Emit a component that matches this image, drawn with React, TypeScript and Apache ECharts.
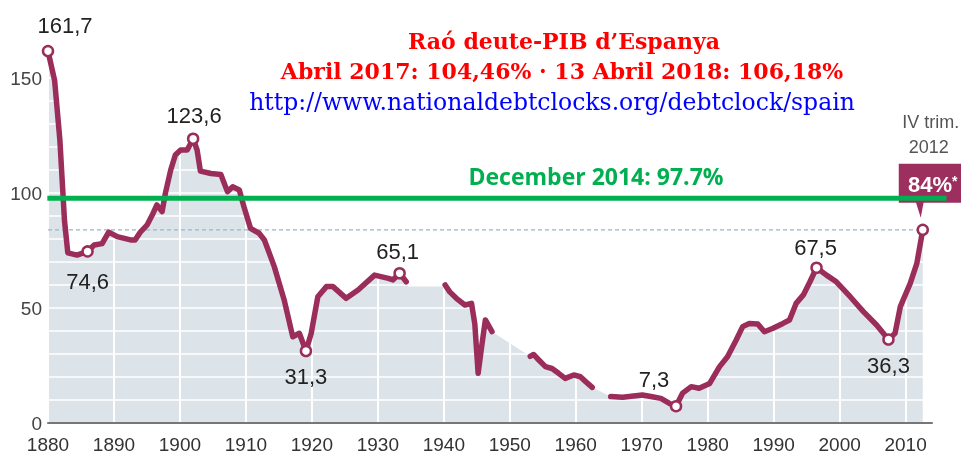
import React, { useEffect, useRef } from "react";
import * as echarts from "echarts";

// Debt-to-GDP ratio of Spain (% of GDP)
const segment1880 = [
  [1880, 161.7], [1881, 149], [1881.8, 123], [1882.5, 88], [1883, 74], [1884.4, 73],
  [1886, 74.6], [1887, 77.4], [1888.2, 78], [1889.2, 83], [1890.5, 81], [1892.5, 79.6],
  [1893.2, 79.6], [1894, 83], [1895, 86], [1895.8, 90.4], [1896.5, 94.8], [1897.3, 91.9],
  [1897.8, 100], [1898.6, 110], [1899.3, 116.5], [1900.1, 118.7], [1901.1, 118.7],
  [1902, 123.6], [1902.6, 118.7], [1903.1, 109.5], [1904.7, 108.5], [1906.2, 108],
  [1907.2, 100.6], [1908, 102.7], [1909, 101.3], [1909.7, 94], [1910.7, 84.6], [1912, 82.5],
  [1912.8, 79.6], [1914.3, 68], [1915.8, 53.5], [1917.1, 37.5], [1918.1, 39], [1919.1, 31.3],
  [1919.9, 39], [1920.9, 54.9], [1922.2, 59.3], [1923.2, 59.3], [1925.2, 54.2], [1927, 57.8],
  [1929.5, 64.3], [1931.6, 62.9], [1932.3, 62.2], [1933.3, 65.1], [1934.3, 61.4],
];
const fillBridge1935 = [[1934.6, 59.3], [1940.0, 59.3]];
const segment1940 = [
  [1940.2, 60], [1940.9, 57], [1941.9, 54.2], [1943.2, 51.3], [1944.2, 52], [1944.7, 43],
  [1945.2, 21.6], [1945.8, 34.6], [1946.3, 44.8], [1947.3, 39.7],
];
const segment1953 = [
  [1953.1, 29], [1953.6, 29.8], [1954.4, 27.4], [1955.4, 24.5], [1956.4, 23.7], [1957.4, 21.6],
  [1958.4, 19.4], [1959.7, 20.9], [1960.7, 20.1], [1961.5, 18], [1962.5, 15.5],
];
const segment1965 = [
  [1965.3, 11.5], [1967.1, 11.2], [1970.1, 12.2], [1971.6, 11.4], [1972.9, 10.7], [1974.2, 8.5],
  [1975.2, 7.3], [1976.2, 13], [1977.5, 15.8], [1978.7, 15.1], [1980.3, 17.2], [1981.8, 24.5],
  [1983, 28.8], [1984.3, 36], [1985.3, 41.9], [1986.3, 43.3], [1987.6, 43], [1988.6, 39.7],
  [1989.9, 41.2], [1991.4, 43.3], [1992.4, 44.8], [1993.4, 52], [1994.5, 55.7], [1995.5, 61.4],
  [1996.5, 67.5], [1998, 64.3], [1999.5, 61.4], [2001.6, 54.9], [2003.6, 48.4], [2005.6, 42.6],
  [2007.4, 36.3], [2008.4, 39], [2009.2, 50.6], [2010.7, 60.7], [2011.7, 69.4], [2012.6, 84],
];

const peakYears = [1880, 1886, 1902, 1919.1, 1933.3, 1975.2, 1996.5, 2007.4, 2012.6];
const peakValues = [161.7, 74.6, 123.6, 31.3, 65.1, 7.3, 67.5, 36.3, 84];
const peakShowLabel = [true, true, true, true, true, true, true, true, false];

const lastQuarterYear = 2012.6;
const currentRatio = 84;
const dec2014Ratio = 97.7;
const dec2014Span = [1879.9, 2016.2];
const dec2014Text = "December 2014: 97.7%";
const titleLines = [
  "Raó deute-PIB d’Espanya",
  "Abril 2017: 104,46% · 13 Abril 2018: 106,18%",
];
const urlText = "http://www.nationaldebtclocks.org/debtclock/spain";
const periodLines = ["IV trim.", "2012"];
const currentText = "84%";

// styles
const labelOffsets = [
  [17, -26], [0, 30], [1, -23], [0, 25], [-2, -22], [-22, -27], [-1, -20], [0, 26], [0, 0],
];
const LINE_COLOR = "#9b2d5b";
const BOX_COLOR = "#9d2f5f";
const FILL_COLOR = "#dde4e9";
const SANS = "'Liberation Sans', Arial, sans-serif";

export default function App() {
  const ref = useRef<HTMLDivElement>(null);
  useEffect(() => {
    const chart = echarts.init(ref.current as HTMLDivElement, null, { renderer: "svg" });
    const lineSeries = (data: number[][]) => ({
      type: "line",
      data,
      symbol: "none",
      z: 4,
      silent: true,
      lineStyle: { color: LINE_COLOR, width: 5.5, cap: "round", join: "round" },
    });
    const fillData = [...segment1880, ...fillBridge1935, ...segment1940, ...segment1953, ...segment1965];
    chart.setOption({
      animation: false,
      grid: { left: 48, right: 29, top: 20.5, bottom: 34, outerBoundsMode: "none" },
      xAxis: {
        type: "value",
        min: 1880,
        max: 2014,
        interval: 10,
        z: 2,
        axisLine: { lineStyle: { color: "#777", width: 2 } },
        axisTick: { show: false },
        axisLabel: {
          fontSize: 19,
          color: "#333",
          fontFamily: SANS,
          margin: 12,
          formatter: (v: number) => (v % 10 === 0 ? String(v) : ""),
        },
        splitLine: { show: true, lineStyle: { color: "#ffffff", width: 2 } },
      },
      yAxis: {
        type: "value",
        min: 0,
        max: 175,
        interval: 10,
        z: 2,
        axisLine: { show: false },
        axisTick: { show: false },
        axisLabel: {
          fontSize: 19,
          color: "#444",
          fontFamily: SANS,
          margin: 6,
          formatter: (v: number) => (v % 50 === 0 ? String(v) : ""),
        },
        splitLine: { show: true, lineStyle: { color: "#ffffff", width: 1.5 } },
      },
      series: [
        {
          type: "line",
          data: fillData,
          symbol: "none",
          z: 1,
          silent: true,
          lineStyle: { width: 0 },
          areaStyle: { color: FILL_COLOR, opacity: 1 },
        },
        {
          type: "line",
          data: [[1880, currentRatio], [lastQuarterYear, currentRatio]],
          symbol: "none",
          z: 3,
          silent: true,
          lineStyle: { color: "#93b9c6", width: 1.2, type: [4, 3] },
        },
        lineSeries(segment1880),
        lineSeries(segment1940),
        lineSeries(segment1953),
        lineSeries(segment1965),
        {
          type: "scatter",
          z: 5,
          silent: true,
          symbol: "circle",
          symbolSize: 10,
          itemStyle: { color: "#ffffff", borderColor: LINE_COLOR, borderWidth: 2.5, opacity: 1 },
          data: peakYears.map((y, i) => ({
            value: [y, peakValues[i]],
            label: {
              show: peakShowLabel[i],
              position: "inside",
              offset: labelOffsets[i],
              formatter: String(peakValues[i]).replace(".", ","),
              fontSize: 22,
              color: "#222",
              fontFamily: SANS,
            },
          })),
        },
      ],
    });
    const toPx = (p: number[]) =>
      chart.convertToPixel({ xAxisIndex: 0, yAxisIndex: 0 }, p) as number[];
    const [px, py] = toPx([lastQuarterYear, currentRatio]);
    const [gx0, gy] = toPx([dec2014Span[0], dec2014Ratio]);
    const [gx1] = toPx([dec2014Span[1], dec2014Ratio]);
    const serif = "'DejaVu Serif', serif";
    chart.setOption({
      graphic: [
        {
          type: "rect", z: 50,
          shape: { x: px - 24, y: py - 66, width: 80, height: 39 },
          style: { fill: BOX_COLOR },
        },
        {
          type: "polygon", z: 50,
          shape: { points: [[px - 7, py - 28], [px + 1, py - 28], [px - 2, py - 12]] },
          style: { fill: BOX_COLOR },
        },
        {
          type: "line", z: 60,
          shape: { x1: gx0, y1: gy, x2: gx1, y2: gy },
          style: { stroke: "#00b050", lineWidth: 5 },
        },
        {
          type: "text", z: 70,
          style: { text: titleLines[0], x: 564, y: 41, align: "center", verticalAlign: "middle", fill: "#ff0000", font: `bold 22px ${serif}` },
        },
        {
          type: "text", z: 70,
          style: { text: titleLines[1], x: 562, y: 71, align: "center", verticalAlign: "middle", fill: "#ff0000", font: `bold 22px ${serif}` },
        },
        {
          type: "text", z: 70,
          style: { text: urlText, x: 552, y: 102, align: "center", verticalAlign: "middle", fill: "#0000ff", font: `23.5px ${serif}` },
        },
        {
          type: "text", z: 70,
          style: { text: dec2014Text, x: 596, y: 175.5, align: "center", verticalAlign: "middle", fill: "#00b050", font: `bold 23px 'Open Sans', sans-serif` },
        },
        {
          type: "text", z: 70,
          style: { text: periodLines[0], x: px + 8, y: py - 108, align: "center", verticalAlign: "middle", fill: "#555", font: `18px ${SANS}` },
        },
        {
          type: "text", z: 70,
          style: { text: periodLines[1], x: px + 6, y: py - 83, align: "center", verticalAlign: "middle", fill: "#555", font: `18px ${SANS}` },
        },
        {
          type: "text", z: 70,
          style: {
            text: `{a|${currentText}}{b|*}`,
            x: px + 10,
            y: py - 45,
            align: "center",
            verticalAlign: "middle",
            rich: {
              a: { fontSize: 22, fontWeight: "bold", fill: "#ffffff", fontFamily: SANS },
              b: { fontSize: 14, fontWeight: "bold", fill: "#ffffff", fontFamily: SANS, verticalAlign: "top" },
            },
          },
        },
      ],
    });
    return () => chart.dispose();
  }, []);
  return <div ref={ref} style={{ position: "fixed", left: 0, top: 0, width: 961, height: 457 }} />;
}
